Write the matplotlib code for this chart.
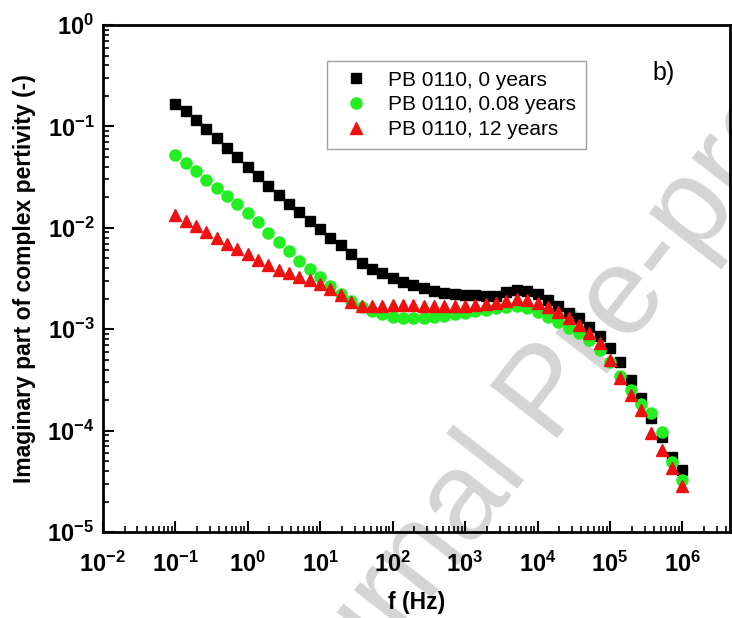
import math
import matplotlib
matplotlib.use("Agg")
import matplotlib.pyplot as plt
from matplotlib.ticker import LogLocator, FuncFormatter, NullFormatter

plt.rcParams["font.family"] = ["Liberation Sans", "DejaVu Sans"]
plt.rcParams["mathtext.fontset"] = "custom"
plt.rcParams["mathtext.rm"] = "Liberation Sans:bold"
plt.rcParams["mathtext.bf"] = "Liberation Sans:bold"
plt.rcParams["mathtext.it"] = "Liberation Sans:bold"

# frequency sweep (Hz), 7 points per decade
freq = [0.1, 0.139, 0.193, 0.268, 0.373, 0.518, 0.72,
        1.0, 1.39, 1.93, 2.68, 3.73, 5.18, 7.2,
        10, 13.9, 19.3, 26.8, 37.3, 51.8, 72,
        100, 139, 193, 268, 373, 518, 720,
        1e3, 1.39e3, 1.93e3, 2.68e3, 3.73e3, 5.18e3, 7.2e3,
        1e4, 1.39e4, 1.93e4, 2.68e4, 3.73e4, 5.18e4, 7.2e4,
        1e5, 1.39e5, 1.93e5, 2.68e5, 3.73e5, 5.18e5, 7.2e5,
        1e6]

eps_0y = [0.166, 0.142, 0.116, 0.0942, 0.0769, 0.0619, 0.0499,
          0.0401, 0.0324, 0.0258, 0.0210, 0.0172, 0.0142, 0.0118,
          0.00973, 0.00793, 0.00676, 0.00552, 0.00450, 0.00397, 0.00362,
          0.00323, 0.00295, 0.00273, 0.00255, 0.00238, 0.00230, 0.00225,
          0.00220, 0.00217, 0.00215, 0.00215, 0.00233, 0.00244, 0.00236,
          0.00222, 0.00194, 0.00169, 0.00146, 0.00129, 0.00105, 0.000857,
          0.000653, 0.000475, 0.000316, 0.000210, 0.000133, 0.0000871, 0.0000553,
          0.0000409]

eps_008y = [0.0522, 0.0435, 0.0363, 0.0299, 0.0247, 0.0206, 0.0170,
            0.0140, 0.0113, 0.00899, 0.00724, 0.00590, 0.00476, 0.00392,
            0.00324, 0.00267, 0.00222, 0.00190, 0.00167, 0.00151, 0.00141,
            0.00133, 0.00129, 0.00128, 0.00129, 0.00132, 0.00136, 0.00141,
            0.00146, 0.00151, 0.00156, 0.00162, 0.00167, 0.00169, 0.00162,
            0.00148, 0.00132, 0.00118, 0.00104, 0.000918, 0.000782, 0.000623,
            0.000475, 0.000346, 0.000251, 0.000183, 0.000149, 0.0000968, 0.0000493,
            0.0000326]

eps_12y = [0.0134, 0.0117, 0.0104, 0.00910, 0.00793, 0.00692, 0.00625,
           0.00558, 0.00487, 0.00430, 0.00388, 0.00358, 0.00331, 0.00306,
           0.00279, 0.00252, 0.00217, 0.00185, 0.00171, 0.00169, 0.00171,
           0.00173, 0.00173, 0.00173, 0.00171, 0.00169, 0.00169, 0.00169,
           0.00171, 0.00173, 0.00177, 0.00181, 0.00190, 0.00199, 0.00194,
           0.00181, 0.00166, 0.00148, 0.00129, 0.00110, 0.000918, 0.000731,
           0.000497, 0.000330, 0.000224, 0.000160, 0.0000947, 0.0000644, 0.0000428,
           0.0000284]

labels = ["PB 0110, 0 years", "PB 0110, 0.08 years", "PB 0110, 12 years"]

fig = plt.figure(figsize=(7.32, 6.18), dpi=100)
ax = fig.add_axes([0.1403, 0.139, 0.8567, 0.8205])

# watermark, behind the axes
fig.text(0.75, 0.36, "Journal Pre-proof", fontsize=90, color="#d4d4d4",
         rotation=52, ha="center", va="center", zorder=-1)

ax.plot(freq, eps_0y, "s", color="black", ms=7.2, label=labels[0], zorder=3)
ax.plot(freq, eps_008y, "o", color="#22ee22", ms=8, label=labels[1], zorder=4)
ax.plot(freq, eps_12y, "^", color="#ee1111", ms=8, label=labels[2], zorder=5)

ax.set_xscale("log")
ax.set_yscale("log")
ax.set_xlim(1e-2, 4.5e6)
ax.set_ylim(1e-5, 1)
ax.patch.set_alpha(0)

def sci(v, pos):
    return r"$10^{%d}$" % int(round(math.log10(v)))

for axis in (ax.xaxis, ax.yaxis):
    axis.set_major_locator(LogLocator(base=10, numticks=20))
    axis.set_minor_locator(LogLocator(base=10, subs=range(2, 10), numticks=20))
    axis.set_major_formatter(FuncFormatter(sci))
    axis.set_minor_formatter(NullFormatter())

ax.tick_params(which="major", direction="in", length=8, width=1.5, labelsize=17)
ax.tick_params(which="minor", direction="in", length=4, width=1.2)
ax.tick_params(axis="x", pad=14)
ax.tick_params(axis="y", pad=6)
for s in ax.spines.values():
    s.set_linewidth(2)

ax.set_xlabel("f (Hz)", fontsize=16.5, fontweight="bold", labelpad=10)
ax.set_ylabel("Imaginary part of complex pertivity (-)", fontsize=16.5, fontweight="bold", labelpad=8)

leg = ax.legend(loc="upper left", bbox_to_anchor=(0.4467, 0.901), bbox_transform=fig.transFigure,
                borderaxespad=0, numpoints=1, fancybox=False, edgecolor="#888888",
                fontsize=15, handletextpad=0.6, labelspacing=0.28, borderpad=0.45,
                handlelength=1.9)
leg.get_frame().set_linewidth(1.0)

ax.text(0.895, 0.905, "b)", transform=ax.transAxes, fontsize=18, ha="center", va="center")

fig.savefig("out.png", dpi=100)
